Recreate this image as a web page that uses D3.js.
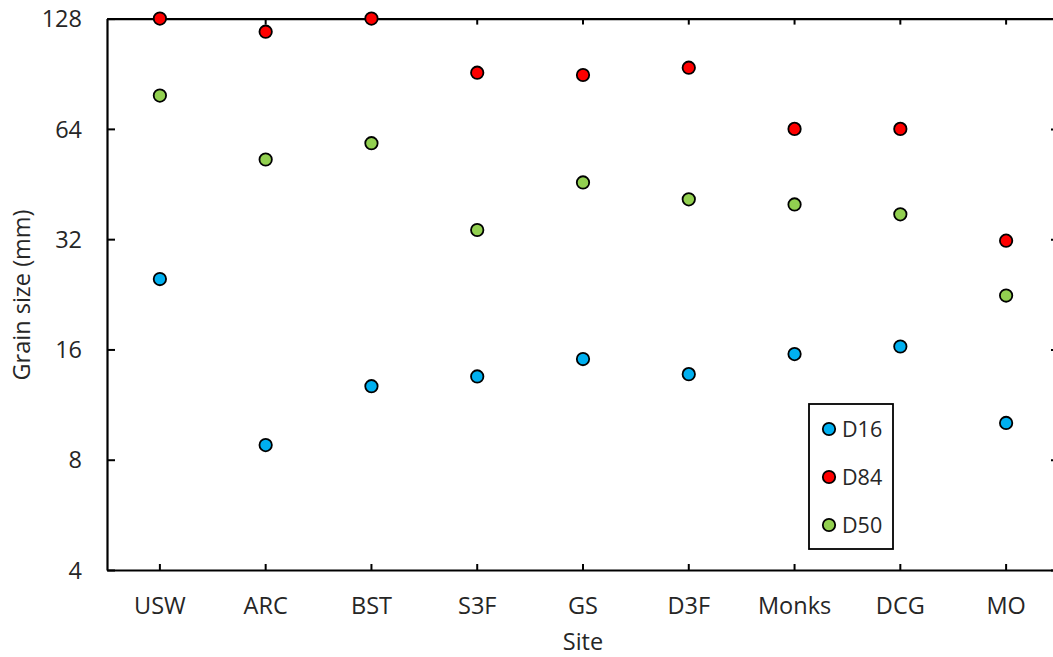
<!DOCTYPE html>
<html>
<head>
<meta charset="utf-8">
<script src="https://cdnjs.cloudflare.com/ajax/libs/d3/7.8.5/d3.min.js"></script>
<style>
  body { margin: 0; background: #fff; }
  text { font-family: "Open Sans", sans-serif; fill: #262626; }
</style>
</head>
<body>
<svg id="chart"></svg>
<script>
// data
var sites = ["USW", "ARC", "BST", "S3F", "GS", "D3F", "Monks", "DCG", "MO"];
var d16 = [24.9, 8.77, 12.7, 13.5, 15.06, 13.7, 15.54, 16.3, 10.08];
var d84 = [128, 117.9, 128, 91.1, 89.8, 94.0, 64, 64, 31.7];
var d50 = [78.9, 52.8, 58.5, 33.9, 45.7, 41.1, 39.8, 37.4, 22.45];
var yTicks = [4, 8, 16, 32, 64, 128];

var seriesList = [
  {name: "D16", values: d16, color: "#00B0F0"},
  {name: "D84", values: d84, color: "#FF0000"},
  {name: "D50", values: d50, color: "#92D050"}
];

var width = 1053, height = 657;
var margin = {left: 107, top: 18.6, right: width - 1059, bottom: height - 570};
var fontSize = "23.5px";

var svg = d3.select("#chart")
            .attr("width", width)
            .attr("height", height);

var x = d3.scaleBand()
          .domain(sites)
          .range([margin.left, width - margin.right]);

var y = d3.scaleLog()
          .base(2)
          .domain([4, 128])
          .range([height - margin.bottom, margin.top]);

// axes, ticks pointing inwards like excel
var gx = svg.append("g")
            .attr("transform", "translate(0," + (height - margin.bottom) + ")")
            .call(d3.axisBottom(x).tickSize(-6).tickPadding(27.5).tickSizeOuter(0));
var gxTop = svg.append("g")
            .attr("transform", "translate(0," + margin.top + ")")
            .call(d3.axisTop(x).tickSize(-6).tickSizeOuter(0).tickFormat(""));
var gy = svg.append("g")
            .attr("transform", "translate(" + margin.left + ",0)")
            .call(d3.axisLeft(y).tickValues(yTicks).tickFormat(function(d) { return d; })
                    .tickSize(-8).tickPadding(25).tickSizeOuter(0));
var gyRight = svg.append("g")
            .attr("transform", "translate(" + (width - margin.right) + ",0)")
            .call(d3.axisRight(y).tickValues(yTicks).tickFormat("").tickSize(-8).tickSizeOuter(0));

svg.selectAll(".domain").attr("stroke", "#000").attr("stroke-width", 2.2);
svg.selectAll(".tick line").attr("stroke", "#000").attr("stroke-width", 2);
gx.selectAll("text").style("font-size", fontSize).attr("fill", "#262626");
gy.selectAll("text").style("font-size", fontSize).attr("fill", "#262626")
  .attr("dy", "0.35em");

// axis titles
svg.append("text")
   .attr("x", 583)
   .attr("y", 650)
   .attr("text-anchor", "middle")
   .style("font-size", fontSize)
   .text("Site");

svg.append("text")
   .attr("transform", "translate(30,295) rotate(-90)")
   .attr("text-anchor", "middle")
   .style("font-size", fontSize)
   .text("Grain size (mm)");

// points
seriesList.forEach(function(s) {
  svg.append("g")
     .selectAll("circle")
     .data(s.values)
     .enter()
     .append("circle")
     .attr("cx", function(d, i) { return x(sites[i]) + x.bandwidth() / 2; })
     .attr("cy", function(d) { return y(d); })
     .attr("r", 6.2)
     .attr("fill", s.color)
     .attr("stroke", "#000")
     .attr("stroke-width", 1.8);
});

// legend
var legend = svg.append("g").attr("transform", "translate(809,404)");
legend.append("rect")
      .attr("width", 84).attr("height", 145)
      .attr("fill", "#fff").attr("stroke", "#000").attr("stroke-width", 1.8);
var item = legend.selectAll(".item")
      .data(seriesList)
      .enter()
      .append("g")
      .attr("transform", function(d, i) { return "translate(0," + (25 + i * 48) + ")"; });
item.append("circle")
    .attr("cx", 20).attr("cy", 0).attr("r", 6.2)
    .attr("fill", function(d) { return d.color; })
    .attr("stroke", "#000").attr("stroke-width", 1.8);
item.append("text")
    .attr("x", 33).attr("y", 0).attr("dy", "0.35em")
    .style("font-size", "21.5px")
    .text(function(d) { return d.name; });
</script>
</body>
</html>
